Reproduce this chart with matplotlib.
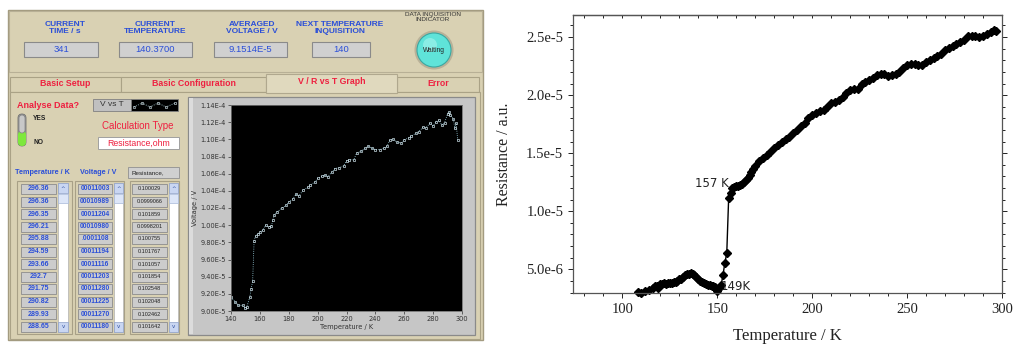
import matplotlib
matplotlib.use('Agg')
import matplotlib.pyplot as plt
from matplotlib.patches import Rectangle, Circle, FancyBboxPatch
from matplotlib.ticker import MultipleLocator, FuncFormatter, FixedLocator

# ---------------- data ----------------
# right chart: resistance vs temperature
temp_r = [108, 110, 112, 114, 116, 117, 118, 119, 120, 121, 122, 123, 124, 125, 126, 127,
          128, 129, 130, 131, 132, 133, 134, 135, 136, 137, 138, 139, 140, 141, 142, 143,
          144, 145, 146, 147, 148, 149, 150, 151, 152, 153, 154, 155, 156, 157, 158, 159,
          160, 161, 162, 163, 164, 165, 166, 167, 168, 169, 170, 172, 174, 176, 178, 180,
          182, 184, 186, 188, 190, 192, 194, 196, 198, 200, 202, 204, 206, 208, 210, 212,
          214, 216, 218, 220, 222, 224, 226, 228, 230, 232, 234, 236, 238, 240, 242, 244,
          246, 248, 250, 252, 254, 256, 258, 260, 262, 264, 266, 268, 270, 272, 274, 276,
          278, 280, 282, 284, 286, 288, 290, 292, 294, 296, 297]
res_r_e6 = [3.06, 3.0, 3.1, 3.2, 3.4, 3.55, 3.6, 3.4, 3.7, 3.75, 3.8, 3.72, 3.85, 3.86, 3.8, 3.9,
            3.95, 4.0, 4.14, 4.2, 4.37, 4.5, 4.57, 4.6, 4.66, 4.6, 4.49, 4.3, 4.14, 4.0, 3.91, 3.85,
            3.71, 3.65, 3.63, 3.6, 3.57, 3.5, 3.14, 3.43, 3.63, 4.49, 5.57, 6.37, 11.14, 11.57, 12.0, 12.1,
            12.14, 12.2, 12.3, 12.34, 12.5, 12.71, 12.9, 13.14, 13.4, 13.6, 13.86, 14.29, 14.55, 14.85, 15.14, 15.43,
            15.7, 15.95, 16.2, 16.43, 16.71, 17.0, 17.3, 17.57, 18.0, 18.29, 18.45, 18.6, 18.75, 19.0, 19.34, 19.45,
            19.6, 19.8, 20.14, 20.43, 20.49, 20.57, 20.94, 21.14, 21.29, 21.5, 21.7, 21.8, 21.86, 21.63, 21.71, 21.8,
            22.0, 22.3, 22.57, 22.66, 22.66, 22.62, 22.6, 22.86, 23.05, 23.2, 23.4, 23.57, 23.86, 24.05, 24.25, 24.43,
            24.6, 24.77, 25.06, 25.09, 25.05, 25.02, 25.05, 25.23, 25.43, 25.57, 25.5]

# inner LabVIEW graph: voltage vs temperature
temp_v = [140, 143, 145, 148, 150, 151, 153, 154, 155, 156, 157, 159, 160, 162, 164, 166, 168,
          169, 170, 172, 175, 178, 180, 183, 185, 187, 190, 193, 195, 198, 200, 203, 205, 207,
          210, 212, 215, 218, 220, 222, 225, 227, 230, 233, 235, 238, 240, 243, 246, 248, 250,
          252, 255, 258, 260, 263, 265, 268, 270, 273, 275, 278, 280, 282, 284, 286, 288, 290,
          291, 292, 294, 295, 296, 297]
volt_v_e5 = [9.16, 9.105, 9.066, 9.066, 9.03, 9.05, 9.16, 9.26, 9.35, 9.82, 9.875, 9.90, 9.92, 9.94,
             10.0, 9.98, 9.99, 10.06, 10.12, 10.155, 10.195, 10.23, 10.27, 10.31, 10.36, 10.34, 10.41,
             10.44, 10.47, 10.50, 10.545, 10.57, 10.585, 10.565, 10.62, 10.66, 10.67, 10.69, 10.75, 10.765,
             10.76, 10.84, 10.86, 10.895, 10.92, 10.895, 10.88, 10.88, 10.895, 10.92, 10.99, 11.0, 10.97,
             10.955, 10.995, 11.015, 11.04, 11.07, 11.09, 11.14, 11.135, 11.19, 11.155, 11.205, 11.225,
             11.165, 11.195, 11.30, 11.32, 11.28, 11.24, 11.13, 11.19, 10.99]

# table contents
table_temp = ['296.36', '296.36', '296.35', '296.21', '295.88', '294.59', '293.66', '292.7',
              '291.75', '290.82', '289.93', '288.65']
table_volt = ['00011003', '00010989', '00011204', '00010980', '.0001108', '00011194', '00011116',
              '00011203', '00011280', '00011225', '00011270', '00011180']
table_res = ['0.100029', '0.0999066', '0.101859', '0.0998201', '0.100755', '0.101767', '0.101057',
             '0.101854', '0.102548', '0.102048', '0.102462', '0.101642']

header_labels = ['CURRENT\nTIME / s', 'CURRENT\nTEMPERATURE', 'AVERAGED\nVOLTAGE / V',
                 'NEXT TEMPERATURE\nINQUISITION']
header_values = ['341', '140.3700', '9.1514E-5', '140']
tab_names = ['Basic Setup', 'Basic Configuration', 'V / R vs T Graph', 'Error']

# ---------------- figure ----------------
W, H = 1013, 344
fig = plt.figure(figsize=(W / 100, H / 100), dpi=100)
fig.patch.set_facecolor('white')
bg = fig.add_axes([0, 0, 1, 1])
bg.set_xlim(0, W)
bg.set_ylim(H, 0)
bg.axis('off')


def rect_px(x0, y0, x1, y1):
    return [x0 / W, 1 - y1 / H, (x1 - x0) / W, (y1 - y0) / H]


def box(x0, y0, x1, y1, fc, ec='#8c8c8c', lw=0.8, z=1):
    bg.add_patch(Rectangle((x0, y0), x1 - x0, y1 - y0, facecolor=fc, edgecolor=ec, lw=lw, zorder=z))


TAN = '#d9d1b3'
BLUE = '#2b4fd8'
RED = '#ee2040'
LS = 'Liberation Sans'

# panel
box(8, 10, 483, 340, TAN, ec='#a39b80', lw=1.0, z=0)
box(9, 11, 482, 72, TAN, ec='#b8b096', lw=0.8, z=1)

hx = [65, 155, 252, 340]
bx = [(24, 98), (119, 192), (214, 287), (312, 370)]
for lab, val, cx, (x0, x1) in zip(header_labels, header_values, hx, bx):
    bg.text(cx, 28, lab, ha='center', va='center', color=BLUE, fontsize=6.0, family=LS,
            weight='bold', linespacing=1.05, zorder=3)
    box(x0, 42, x1, 57, '#d0d0d0', ec='#8a8a8a', lw=0.8, z=2)
    bg.text((x0 + x1) / 2, 49.5, val, ha='center', va='center', color=BLUE, fontsize=6.8,
            family=LS, zorder=3)

bg.text(433, 17, 'DATA INQUISITION\nINDICATOR', ha='center', va='center', color='#333333',
        fontsize=4.6, family=LS, linespacing=1.0, zorder=3)
bg.add_patch(Circle((434, 50), 19.5, facecolor='#b9b198', edgecolor='none', zorder=2))
bg.add_patch(Circle((434, 50), 17, facecolor='#5fe3d9', edgecolor='#3aa8a2', lw=0.8, zorder=3))
bg.add_patch(Circle((430, 45), 7, facecolor='#a8f4ee', edgecolor='none', alpha=0.6, zorder=3))
bg.text(434, 51, 'Waiting', ha='center', va='center', fontsize=4.8, family=LS, color='#222222', zorder=4)

# tabs
tabs = [(10, 121), (121, 266), (266, 397), (397, 479)]
for i, (name, (x0, x1)) in enumerate(zip(tab_names, tabs)):
    if i == 2:
        box(x0, 74, x1, 93, '#e0d9be', ec='#b0a88e', lw=0.8, z=2)
        ty = 82
    else:
        box(x0, 77, x1, 92, TAN, ec='#aaa286', lw=0.8, z=1)
        ty = 84
    bg.text((x0 + x1) / 2, ty, name, ha='center', va='center', color=RED, fontsize=6.3,
            family=LS, weight='bold', zorder=3)
box(10, 92, 480, 339, TAN, ec='#aaa286', lw=0.8, z=1)

# left controls
bg.text(17, 106, 'Analyse Data?', ha='left', va='center', color=RED, fontsize=6.5, family=LS,
        weight='bold', zorder=3)
bg.add_patch(FancyBboxPatch((18, 114), 8, 32, boxstyle='round,pad=0,rounding_size=4',
                            facecolor='#a0a0a0', edgecolor='#707070', lw=0.6, zorder=2))
bg.add_patch(FancyBboxPatch((18, 131), 8, 15, boxstyle='round,pad=0,rounding_size=4',
                            facecolor='#7ee83c', edgecolor='none', zorder=3))
bg.add_patch(FancyBboxPatch((19, 115), 6, 18, boxstyle='round,pad=0,rounding_size=3',
                            facecolor='#c8c8c8', edgecolor='#808080', lw=0.5, zorder=4))
bg.text(33, 118, 'YES', ha='left', va='center', fontsize=4.8, family=LS, color='#222',
        weight='bold', zorder=3)
bg.text(33, 142, 'NO', ha='left', va='center', fontsize=4.8, family=LS, color='#222',
        weight='bold', zorder=3)

box(93, 99, 131, 111, '#c0c0c0', ec='#808080', lw=0.6, z=2)
bg.text(112, 105, 'V vs T', ha='center', va='center', fontsize=6, family=LS, color='#333', zorder=3)
box(131, 99, 178, 111, '#000000', ec='#808080', lw=0.6, z=2)
bg.plot([134, 142, 150, 158, 166, 175], [107, 103, 107, 103, 107, 103], ls=':', color='#bfe8f0',
        lw=0.6, marker='s', ms=1.8, mfc='none', mec='#e8f8ff', mew=0.4, zorder=3)

bg.text(138, 126, 'Calculation Type', ha='center', va='center', color=RED, fontsize=7, family=LS, zorder=3)
box(98, 137, 179, 149, '#ffffff', ec='#a0a0a0', lw=0.7, z=2)
bg.text(138.5, 143, 'Resistance,ohm', ha='center', va='center', color=RED, fontsize=6.3, family=LS, zorder=3)

bg.text(42, 172, 'Temperature / K', ha='center', va='center', color=BLUE, fontsize=5.2, family=LS,
        weight='bold', zorder=3)
bg.text(98, 172, 'Voltage / V', ha='center', va='center', color=BLUE, fontsize=5.2, family=LS,
        weight='bold', zorder=3)
box(128, 167, 179, 178, '#d0d0d0', ec='#909090', lw=0.6, z=2)
bg.text(131, 172.5, 'Resistance,', ha='left', va='center', color='#222', fontsize=4.5, family=LS, zorder=3)

cols = [((17, 72), (21, 56), (58, 68), table_temp, BLUE, 5.0, 'bold'),
        ((75, 124), (78, 112), (114, 123), table_volt, BLUE, 4.8, 'bold'),
        ((130, 179), (132, 167), (169, 178), table_res, '#222222', 4.0, 'normal')]
for (fx0, fx1), (cx0, cx1), (sx0, sx1), vals, col, fs, wt in cols:
    box(fx0, 181, fx1, 334, TAN, ec='#a8a086', lw=0.8, z=2)
    box(sx0, 183, sx1, 332, '#ffffff', ec='#b0b0b0', lw=0.5, z=3)
    box(sx0, 183, sx1, 193, '#c9d6f2', ec='#8ea0c8', lw=0.5, z=4)
    box(sx0, 194, sx1, 203, '#dde6f8', ec='#a8b8d8', lw=0.5, z=4)
    box(sx0, 322, sx1, 332, '#c9d6f2', ec='#8ea0c8', lw=0.5, z=4)
    bg.text((sx0 + sx1) / 2, 188.5, '^', ha='center', va='center', fontsize=4, color='#3050a0', zorder=5)
    bg.text((sx0 + sx1) / 2, 326.5, 'v', ha='center', va='center', fontsize=4, color='#3050a0', zorder=5)
    for i, v in enumerate(vals):
        cy = 189 + i * 12.5
        box(cx0, cy - 5, cx1, cy + 5, '#cccccc', ec='#8c8c8c', lw=0.6, z=3)
        bg.text((cx0 + cx1) / 2, cy, v, ha='center', va='center', color=col, fontsize=fs,
                family=LS, weight=wt, zorder=4)

# inner graph frame
box(188, 97, 475, 335, '#c6c6c6', ec='#8a8a8a', lw=0.9, z=2)
box(189, 98, 193, 334, '#dcdcdc', ec='none', lw=0, z=2)

iax = fig.add_axes(rect_px(231, 105, 462, 311))
iax.set_facecolor('black')
iax.plot(temp_v, [v * 1e-5 for v in volt_v_e5], ls=':', color='#9fd6e6', lw=0.6, marker='s',
         ms=2.0, mfc='none', mec='#e0f6ff', mew=0.45)
iax.set_xlim(140, 300)
iax.set_ylim(9.0e-5, 1.14e-4)
iax.xaxis.set_major_locator(MultipleLocator(20))
iax.yaxis.set_major_locator(FixedLocator([9.0e-5 + 2e-6 * k for k in range(13)]))


def lv_fmt(v, pos):
    if v < 9.999e-5:
        return '%.2fE-5' % (v * 1e5)
    return '%.2fE-4' % (v * 1e4)


iax.yaxis.set_major_formatter(FuncFormatter(lv_fmt))
iax.tick_params(labelsize=4.8, length=2, width=0.5, colors='#333333', pad=1.5)
for s in iax.spines.values():
    s.set_color('#707070')
    s.set_linewidth(0.6)
iax.set_xlabel('Temperature / K', fontsize=4.8, color='#333', labelpad=1.5)
iax.set_ylabel('Voltage / V', fontsize=4.8, color='#333', labelpad=2)

# ---------------- right chart ----------------
SERIF = 'Liberation Serif'
ax = fig.add_axes(rect_px(573, 15, 1002, 293))
ax.plot(temp_r, [r * 1e-6 for r in res_r_e6], color='black', lw=1.0, marker='D', ms=4.2,
        mfc='black', mec='black', clip_on=False)
ax.set_xlim(74, 300)
ax.set_ylim(2.96e-6, 2.69e-5)
ax.xaxis.set_major_locator(MultipleLocator(50))
ax.xaxis.set_minor_locator(MultipleLocator(10))
ax.yaxis.set_major_locator(MultipleLocator(5e-6))
ax.yaxis.set_minor_locator(MultipleLocator(1e-6))


def sci_fmt(v, pos):
    if v <= 0:
        return ''
    s = '%.1e' % v
    m, e = s.split('e')
    return '%se-%d' % (m, abs(int(e)))


ax.yaxis.set_major_formatter(FuncFormatter(sci_fmt))
ax.tick_params(which='major', length=3.5, width=0.7, direction='out', labelsize=10.5, colors='#222222',
               right=True, top=False)
ax.tick_params(which='minor', length=2, width=0.6, direction='out', right=True, top=False)
for lab in ax.get_xticklabels() + ax.get_yticklabels():
    lab.set_family(SERIF)
secx = ax.secondary_xaxis('top')
secx.xaxis.set_major_locator(MultipleLocator(50))
secx.xaxis.set_minor_locator(MultipleLocator(10))
secx.tick_params(which='both', direction='in', labeltop=False, length=2.5, width=0.6)
secx.tick_params(which='minor', length=2)
for s in list(ax.spines.values()) + list(secx.spines.values()):
    s.set_color('#555555')
    s.set_linewidth(0.9)
ax.set_xlabel('Temperature / K', family=SERIF, fontsize=12, labelpad=9, color='#222')
ax.set_ylabel('Resistance / a.u.', family=SERIF, fontsize=11.5, labelpad=10, color='#222')
ax.text(156, 1.24e-5, '157 K', ha='right', va='center', fontsize=8.5, family='DejaVu Sans', color='#222')
ax.text(151.6, 3.56e-6, '149K', ha='left', va='center', fontsize=8.5, family='DejaVu Sans', color='#222')

fig.savefig('out.png', dpi=100, facecolor='white')
